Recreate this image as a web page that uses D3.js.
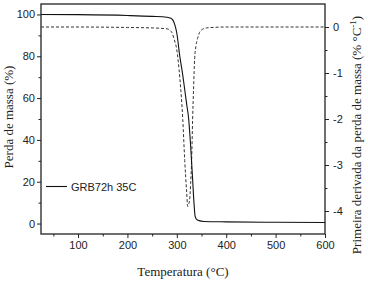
<!DOCTYPE html>
<html>
<head>
<meta charset="utf-8">
<script src="https://cdn.jsdelivr.net/npm/d3@7"></script>
<style>
  body { margin: 0; background: #fff; }
  svg { display: block; }
  .tick text { font-family: "Liberation Sans", Arial, sans-serif; font-size: 11px; fill: #222; }
  .ttl { font-family: "Liberation Serif", "Times New Roman", serif; font-size: 13px; fill: #222; }
</style>
</head>
<body>
<svg width="368" height="284"></svg>
<script>
// TG curve (massa %)
var tgTemp = [25, 100, 200, 250, 280, 288, 292, 296, 300, 306, 312, 316, 320, 324, 328, 332, 335, 337, 340, 345, 355, 400, 500, 600];
var tgMass = [100, 99.9, 99.5, 99.1, 98.7, 98.2, 97.3, 95, 91, 80, 71, 64, 57, 50, 37, 21, 9, 3.5, 2, 1.4, 1.0, 0.8, 0.6, 0.5];
// DTG curve (% / °C)
var dtgTemp = [25, 100, 200, 250, 280, 286, 290, 295, 300, 306, 312, 316, 320, 322, 324, 326, 328, 330, 332, 334, 336, 339, 342, 346, 352, 360, 400, 500, 600];
var dtgVal = [0, 0, -0.01, -0.02, -0.04, -0.07, -0.12, -0.28, -0.5, -1.1, -2.0, -2.9, -3.6, -3.9, -3.85, -3.75, -3.4, -2.9, -2.0, -1.3, -0.7, -0.4, -0.25, -0.12, -0.05, -0.02, 0, 0, 0];
var xTicks = [100, 200, 300, 400, 500, 600];
var yTicks = [0, 20, 40, 60, 80, 100];
var y2Ticks = [0, -1, -2, -3, -4];
var legendLabel = "GRB72h 35C";

var L = 41, R = 325, T = 4, B = 234;
var svg = d3.select("svg");

var x = d3.scaleLinear().domain([25, 600]).range([L, R]);
var y = d3.scaleLinear().domain([-5, 105]).range([B, T]);
var y2 = d3.scaleLinear().domain([-4.5, 0.5]).range([B, T]);

//frame
svg.append("rect").attr("x", L).attr("y", T).attr("width", R - L).attr("height", B - T)
  .style("fill", "none").style("stroke", "#222").style("stroke-width", 1.3);

function axisStyle(g) {
  g.select(".domain").remove();
  g.selectAll("line").style("stroke", "#222");
}

// minor ticks first, then major
svg.append("g").attr("transform", `translate(0,${B})`)
  .call(d3.axisBottom(x).tickValues(d3.range(50, 600, 100)).tickSize(2.5).tickFormat(""))
  .call(axisStyle);
svg.append("g").attr("transform", `translate(0,${B})`)
  .call(d3.axisBottom(x).tickValues(xTicks).tickSize(4).tickPadding(3).tickFormat(d => String(d)))
  .call(axisStyle);

svg.append("g").attr("transform", `translate(${L},0)`)
  .call(d3.axisLeft(y).tickValues(d3.range(10, 100, 20)).tickSize(2.5).tickFormat(""))
  .call(axisStyle);
svg.append("g").attr("transform", `translate(${L},0)`)
  .call(d3.axisLeft(y).tickValues(yTicks).tickSize(4).tickPadding(2).tickFormat(d => String(d)))
  .call(axisStyle);

svg.append("g").attr("transform", `translate(${R},0)`)
  .call(d3.axisRight(y2).tickValues([-0.5, -1.5, -2.5, -3.5]).tickSize(2.5).tickFormat(""))
  .call(axisStyle);
svg.append("g").attr("transform", `translate(${R},0)`)
  .call(d3.axisRight(y2).tickValues(y2Ticks).tickSize(4).tickPadding(4).tickFormat(d => String(d)))
  .call(axisStyle);

// curves
var tgData = tgTemp.map((t, i) => [t, tgMass[i]]);
var dtgData = dtgTemp.map((t, i) => [t, dtgVal[i]]);

svg.append("path").datum(dtgData)
  .attr("d", d3.line().x(d => x(d[0])).y(d => y2(d[1])).curve(d3.curveMonotoneX))
  .style("fill", "none").style("stroke", "#333").style("stroke-width", 1)
  .style("stroke-dasharray", "3,2");

svg.append("path").datum(tgData)
  .attr("d", d3.line().x(d => x(d[0])).y(d => y(d[1])).curve(d3.curveMonotoneX))
  .style("fill", "none").style("stroke", "#111").style("stroke-width", 1.1);

// legend
svg.append("line").attr("x1", 46).attr("x2", 67).attr("y1", 186.5).attr("y2", 186.5)
  .style("stroke", "#111").style("stroke-width", 1.1);
svg.append("text").attr("x", 71).attr("y", 190.5)
  .style("font-family", "'Liberation Sans', Arial, sans-serif").style("font-size", "11px").style("fill", "#222")
  .text(legendLabel);

// titles
svg.append("text").attr("class", "ttl").attr("x", (L + R) / 2).attr("y", 276)
  .attr("text-anchor", "middle").text("Temperatura (°C)");
svg.append("text").attr("class", "ttl")
  .attr("transform", `translate(13,${(T + B) / 2 - 2}) rotate(-90)`)
  .attr("text-anchor", "middle").text("Perda de massa (%)");
var t2 = svg.append("text").attr("class", "ttl")
  .attr("transform", `translate(361,${(T + B) / 2 + 16}) rotate(-90)`)
  .attr("text-anchor", "middle");
t2.append("tspan").text("Primeira derivada da perda de massa (% °C");
t2.append("tspan").attr("dy", -5).style("font-size", "9px").text("-1");
t2.append("tspan").attr("dy", 5).text(")");
</script>
</body>
</html>
